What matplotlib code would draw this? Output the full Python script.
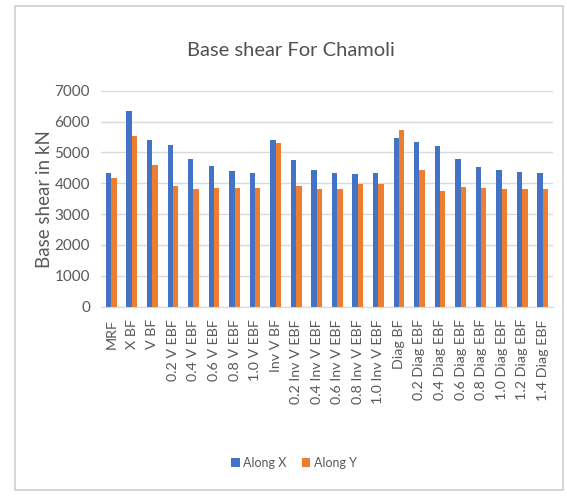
import numpy as np
import matplotlib.pyplot as plt
from matplotlib.patches import Rectangle
from matplotlib import font_manager

# frame categories and base shear (kN) in both directions
frames = ["MRF", "X BF", "V BF", "0.2 V EBF", "0.4 V EBF", "0.6 V EBF", "0.8 V EBF",
          "1.0 V EBF", "Inv V BF", "0.2 Inv V EBF", "0.4 Inv V EBF", "0.6 Inv V EBF",
          "0.8 Inv V EBF", "1.0 Inv V EBF", "Diag BF", "0.2 Diag EBF", "0.4 Diag EBF",
          "0.6 Diag EBF", "0.8 Diag EBF", "1.0 Diag EBF", "1.2 Diag EBF", "1.4 Diag EBF"]
along_x = [4320, 6350, 5400, 5240, 4800, 4560, 4410, 4320, 5400, 4750, 4430, 4320,
           4290, 4320, 5460, 5350, 5210, 4790, 4540, 4430, 4350, 4320]
along_y = [4160, 5530, 4590, 3910, 3810, 3860, 3840, 3840, 5290, 3910, 3810, 3810,
           3970, 3990, 5730, 4430, 3760, 3870, 3840, 3810, 3810, 3810]
y_ticks = [0, 1000, 2000, 3000, 4000, 5000, 6000, 7000]

names = {f.name for f in font_manager.fontManager.ttflist}
fam = "Liberation Sans Narrow" if "Liberation Sans Narrow" in names else "Lato"
plt.rcParams['font.family'] = [fam, 'DejaVu Sans']

fig = plt.figure(figsize=(5.67, 4.96), dpi=100)
fig.patches.append(Rectangle((15 / 567, 6 / 496), 548 / 567, 484 / 496,
                             transform=fig.transFigure, fill=False,
                             edgecolor="#d0d0d0", linewidth=1.2))

ax = fig.add_axes([101 / 567, 1 - 306.7 / 496, 452 / 567, 216 / 496])
x = np.arange(len(frames))
w = 0.26
ax.bar(x - w / 2, along_x, w, color="#4472C4", label="Along X")
ax.bar(x + w / 2, along_y, w, color="#ED7D31", label="Along Y")

ax.set_xlim(-0.5, len(frames) - 0.5)
ax.set_ylim(0, 7000)
ax.set_yticks(y_ticks)
ax.set_xticks(x)
ax.set_xticklabels(frames, rotation=90, fontsize=10.3, color="#595959")
ax.tick_params(axis="y", labelsize=11, colors="#595959", length=0, pad=8)
ax.tick_params(axis="x", length=0, pad=9)
ax.yaxis.grid(True, color="#d9d9d9", linewidth=1)
ax.set_axisbelow(True)
for s in ["top", "right", "left"]:
    ax.spines[s].set_visible(False)
ax.spines["bottom"].set_color("#d9d9d9")

ax.set_ylabel("Base shear in kN", fontsize=13.5, color="#595959", labelpad=1)
fig.text(291 / 567, 1 - 50 / 496, "Base shear For Chamoli", ha="center", va="center",
         fontsize=14.5, color="#505050")

fig.legend(loc="center", bbox_to_anchor=(294 / 567, 1 - 463 / 496), ncol=2,
           frameon=False, fontsize=9, handlelength=0.7, handleheight=0.7,
           handletextpad=0.3, columnspacing=1.2, labelcolor="#595959")

fig.savefig("out.png", dpi=100)
